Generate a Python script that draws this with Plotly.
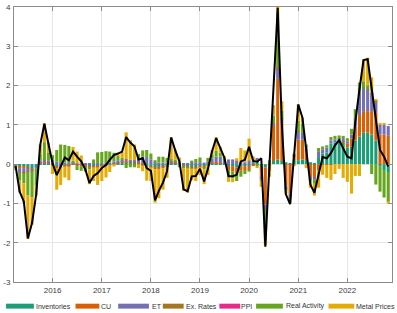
import pandas as pd
import plotly.graph_objects as go

# ---------------- data (monthly, Apr 2015 - Nov 2022) ----------------
months = pd.date_range("2015-04-01", periods=92, freq="MS")

series_names = ["Inventories", "CU", "ET", "Ex. Rates", "PPI", "Real Activity", "Metal Prices"]
series_colors = ["#1b9e77", "#d95f02", "#7570b3", "#a6761d", "#e7298a", "#66a61e", "#e6ab02"]

inventories = [
    -0.02, -0.05, -0.05, -0.08, -0.10, -0.05, 0.02, 0.02, 0.02,
    -0.03, -0.06, -0.05, -0.04, -0.04, 0.02, -0.02, -0.02, -0.03, -0.05, -0.05, -0.06,
    -0.03, -0.02, -0.02, -0.01, 0.02, 0.03, 0.05, 0.05, 0.04, 0.02, -0.03, -0.05,
    -0.06, -0.08, -0.08, -0.07, -0.05, 0.02, 0.02, 0.02, -0.03, -0.05, -0.08, -0.08,
    -0.06, -0.05, -0.03, 0.02, 0.02, 0.02, 0.02, -0.03, -0.05, -0.08, -0.05, -0.05,
    -0.04, 0.03, 0.05, -0.05, -0.08, 0.05, 0.08, 0.12, 0.08, 0.05, 0.03, 0.10,
    0.10, 0.12, 0.10, 0.05, 0.03, 0.18, 0.27, 0.30, 0.52, 0.55, 0.62, 0.55,
    0.42, 0.45, 0.60, 0.70, 0.80, 0.80, 0.75, 0.60, -0.05, -0.15, -0.20]

cu = [
    -0.02, -0.05, -0.05, -0.03, -0.03, -0.02, 0.03, 0.03, 0.03,
    0.03, -0.04, -0.03, -0.02, -0.02, -0.02, -0.03, -0.03, -0.04, -0.03, -0.03, -0.02,
    -0.02, -0.02, 0.00, 0.02, 0.03, 0.03, 0.03, 0.02, 0.02, 0.02, 0.02, -0.02,
    -0.02, -0.05, -0.04, -0.03, -0.02, 0.02, 0.02, 0.00, -0.02, -0.03, -0.03, -0.03,
    -0.02, -0.03, 0.00, 0.02, 0.03, 0.03, 0.00, -0.12, -0.13, -0.15, -0.12, -0.10,
    -0.10, -0.05, 0.08, -0.30, -0.95, -0.15, 0.90, 2.05, 0.95, -0.55, -0.75, 0.10,
    0.52, 0.50, 0.25, -0.35, -0.35, -0.15, -0.02, -0.02, -0.02, 0.00, 0.00, 0.02,
    0.10, 0.20, 0.35, 0.55, 0.55, 0.55, 0.60, 0.70, 0.75, 0.75, 0.72]

et = [
    -0.03, -0.10, -0.12, -0.08, -0.05, -0.03, 0.05, 0.05, 0.05,
    0.08, 0.06, 0.05, 0.04, 0.03, 0.02, 0.02, 0.02, 0.02, 0.02, 0.02, 0.02,
    0.03, 0.03, 0.04, 0.05, 0.05, 0.05, 0.05, 0.04, 0.04, 0.10, 0.18, 0.18,
    0.12, 0.05, 0.04, 0.04, 0.04, 0.04, 0.03, 0.03, 0.02, 0.03, 0.04, 0.05,
    0.05, 0.04, 0.06, 0.10, 0.14, 0.14, 0.10, 0.12, 0.12, 0.10, 0.06, 0.05,
    0.10, 0.05, 0.02, -0.03, -0.12, -0.02, 0.05, 0.25, 0.12, -0.08, -0.10, 0.02,
    0.22, 0.15, 0.05, -0.05, -0.05, 0.15, 0.11, 0.12, 0.08, 0.08, 0.03, 0.07,
    0.06, 0.10, 0.20, 0.55, 0.60, 0.55, 0.45, 0.30, 0.25, 0.25, 0.25]

ex_rates = [
    0.00, -0.02, -0.02, -0.01, -0.01, 0.00, 0.00, 0.01, 0.00,
    0, 0, 0, 0, 0, 0, 0, 0, 0, 0, 0, 0,
    0, 0, 0, 0, 0, 0, 0, 0, 0, 0, 0, 0,
    0, 0, 0, 0, 0, 0, 0, 0, 0, 0, 0, 0,
    0, 0, 0, 0, 0, 0, 0, 0, 0, 0, 0, 0,
    0.00, 0.00, 0.00, 0.00, -0.02, 0.00, 0.01, 0.03, 0.01, 0.00, 0.00, 0.00,
    0.01, 0.01, 0, 0, 0, 0, 0, 0, 0, 0, 0, 0,
    0.00, 0.00, 0.00, 0.01, 0.01, 0.01, 0.01, 0.01, 0.00, 0.00, 0.00]

ppi = [
    0, 0, 0, 0, 0, 0, 0, 0, 0,
    0, 0, 0, 0, 0, 0, 0, 0, 0, 0, 0, 0,
    0, 0, 0, 0, 0, 0, 0, 0, 0, 0, 0, 0,
    0, 0, 0, 0, 0, 0, 0, 0, 0, 0, 0, 0,
    0, 0, 0, 0, 0, 0, 0, 0, 0, 0, 0, 0,
    0, 0, 0, 0, 0, 0, 0, 0.01, 0, 0, 0, 0,
    0, 0, 0, 0, 0, 0, 0, 0, 0, 0, 0, 0,
    0, 0, 0, 0, 0, 0, 0, 0, 0, 0, 0]

real_activity = [
    -0.03, -0.20, -0.25, -0.60, -0.65, -0.45, 0.15, 0.45, 0.20,
    0.12, 0.30, 0.45, 0.45, 0.43, 0.05, -0.10, -0.12, -0.12, -0.05, 0.10, 0.28,
    0.28, 0.30, 0.28, 0.22, 0.12, 0.05, -0.10, -0.08, -0.08, 0.12, 0.15, 0.18,
    0.15, 0.05, 0.15, 0.15, 0.12, 0.05, 0.05, -0.08, -0.05, -0.02, 0.05, 0.08,
    0.12, -0.05, 0.10, 0.10, 0.15, 0.10, 0.05, -0.15, -0.18, -0.20, -0.15, -0.10,
    -0.05, 0.00, -0.05, -0.05, -0.78, 0.05, 0.20, 1.40, 0.20, -0.05, -0.05, 0.05,
    0.25, 0.25, 0.10, -0.05, -0.10, 0.08, 0.07, 0.06, 0.09, 0.09, 0.08, 0.08,
    0.08, 0.15, 0.25, 0.27, 0.15, 0.10, -0.25, -0.52, -0.65, -0.70, -0.75]

metal_prices = [
    -0.05, -0.30, -0.50, -1.10, -0.70, -0.25, 0.25, 0.48, 0.25,
    -0.22, -0.55, -0.45, -0.28, -0.35, 0.35, 0.30, 0.20, 0.00, -0.38, -0.35, -0.45,
    -0.38, -0.30, -0.18, -0.05, 0.05, 0.15, 0.68, 0.50, 0.40, -0.10, -0.15, -0.35,
    -0.35, -0.85, -0.75, -0.55, -0.28, 0.55, 0.25, 0.12, -0.58, -0.62, -0.30, -0.32,
    -0.20, -0.38, -0.25, 0.12, 0.35, 0.15, 0.02, -0.15, -0.10, 0.05, 0.35, 0.30,
    0.55, 0.12, -0.05, -0.15, -0.12, -0.15, 0.26, 0.14, 0.24, -0.08, -0.10, -0.05,
    0.42, 0.15, -0.10, -0.15, -0.30, -0.45, -0.25, -0.33, -0.38, -0.25, -0.12, -0.35,
    -0.45, -0.75, -0.30, -0.30, 0.55, 0.70, 0.40, 0.05, 0.05, 0.05, -0.05]

total = [
    -0.05, -0.70, -0.95, -1.89, -1.50, -0.77, 0.49, 1.03, 0.52,
    0.02, -0.28, -0.05, 0.17, 0.10, 0.32, 0.19, 0.07, -0.14, -0.48, -0.30, -0.23,
    -0.10, -0.02, 0.11, 0.23, 0.27, 0.32, 0.69, 0.55, 0.45, 0.12, 0.15, -0.10,
    -0.17, -0.92, -0.68, -0.47, -0.18, 0.68, 0.35, 0.07, -0.64, -0.69, -0.31, -0.30,
    -0.12, -0.44, -0.12, 0.33, 0.66, 0.42, 0.17, -0.31, -0.31, -0.27, 0.07, 0.11,
    0.44, 0.08, 0.06, 0.15, -2.10, 0.00, 2.00, 3.98, 1.00, -0.77, -1.02, 0.20,
    1.52, 1.18, 0.40, -0.52, -0.73, -0.23, 0.18, 0.15, 0.28, 0.48, 0.61, 0.40,
    0.19, 0.15, 1.07, 1.90, 2.65, 2.67, 1.90, 1.05, 0.36, 0.19, -0.06]

y_ticks = [-3, -2, -1, 0, 1, 2, 3, 4]
y_tick_labels = ["-3", "-2", "-1", "0", "1", "2", "3", "4"]

components = [inventories, cu, et, ex_rates, ppi, real_activity, metal_prices]

# ---------------- figure ----------------
W, H = 397, 313
ML, MR, MT, MB = 11, 5, 3, 31
PW, PH = W - ML - MR, H - MT - MB
FONT = "Liberation Sans, Arial, sans-serif"

fig = go.Figure()
bar_width_ms = 23 * 24 * 3600 * 1000
for name, color, vals in zip(series_names, series_colors, components):
    fig.add_trace(go.Bar(x=months, y=vals, name=name, marker_color=color,
                         marker_line_width=0, width=bar_width_ms, showlegend=False))

fig.add_trace(go.Scatter(x=months, y=total, mode="lines", name="Total",
                         line=dict(color="black", width=2), showlegend=False))

axis_common = dict(showline=True, linecolor="#8c8c8c", linewidth=1, mirror="ticks",
                   ticks="inside", ticklen=4, tickcolor="#8c8c8c",
                   showgrid=True, gridcolor="#e6e6e6", gridwidth=1, zeroline=False,
                   ticklabeloverflow="allow",
                   tickfont=dict(family=FONT, size=8, color="#404040"))

fig.update_layout(
    width=W, height=H, margin=dict(l=ML, r=MR, t=MT, b=MB),
    paper_bgcolor="white", plot_bgcolor="white",
    barmode="relative", bargap=0.2,
    font=dict(family=FONT, size=8, color="#333333"),
    xaxis=dict(type="date", range=["2015-03-20", "2022-11-29"],
               tick0="2016-01-01", dtick="M12", tickformat="%Y", **axis_common),
    yaxis=dict(range=[-3, 4], tickvals=y_ticks, ticktext=y_tick_labels,
               ticklabelstandoff=1, **axis_common),
)

# manual legend (long flat swatches like the original)
def px_x(x):
    return (x - ML) / PW

def px_y(y):
    return (H - MB - y) / PH

legend_swatches = [(3, 31), (73, 97), (116, 147), (161, 182), (218, 239), (255, 282), (328, 354)]
legend_text_x = [32, 98, 149, 183, 239, 284, 355]
for name, color, (x0, x1), tx in zip(series_names, series_colors, legend_swatches, legend_text_x):
    fig.add_shape(type="rect", xref="paper", yref="paper",
                  x0=px_x(x0), x1=px_x(x1), y0=px_y(309), y1=px_y(304),
                  fillcolor=color, line_width=0)
    fig.add_annotation(xref="paper", yref="paper", x=px_x(tx), y=px_y(306.5),
                       text=name, showarrow=False, xanchor="left", yanchor="middle",
                       borderpad=0, font=dict(family=FONT, size=7, color="#333333"))

fig.write_html("out.html", config={"displayModeBar": False},
               post_script="document.body.style.margin='0';document.body.style.overflow='hidden';")
